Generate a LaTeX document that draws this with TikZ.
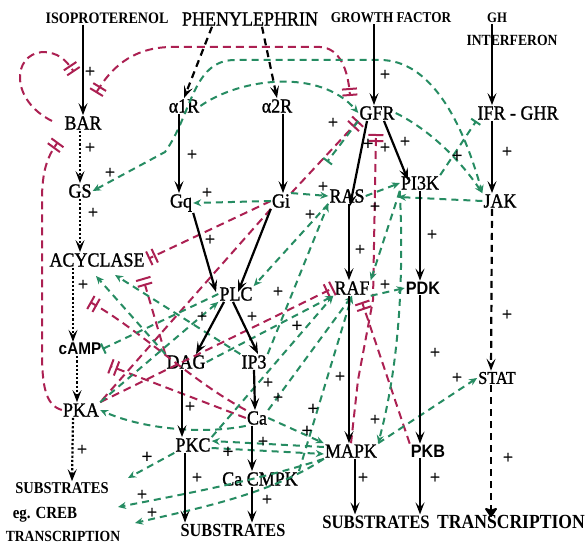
\documentclass[tikz,border=0pt]{standalone}
\usepackage{fontspec}
\setmainfont{Liberation Serif}
\newfontfamily\cond{Liberation Serif}[FakeStretch=0.9,FakeBold=1.2]
\newfontfamily\condo{Liberation Serif}[FakeStretch=0.88]
\newfontfamily\condsans{Liberation Sans}[FakeStretch=0.9]
\newfontfamily\plusfont{Liberation Serif}[FakeBold=1.5]
\usetikzlibrary{arrows.meta,calc}
\definecolor{gcol}{RGB}{38,140,98}
\definecolor{rcol}{RGB}{172,32,82}
\tikzset{
  lbl/.style={inner sep=1pt,font={\cond\fontsize{20}{20}\selectfont}},
  outer/.style={inner sep=1pt,font={\condo\bfseries\fontsize{16}{16}\selectfont}},
  sanslbl/.style={inner sep=1pt,font={\condsans\bfseries\fontsize{18}{18}\selectfont}},
  plus/.style={inner sep=0pt,font={\plusfont\fontsize{18}{18}\selectfont}},
  bplus/.style={inner sep=0pt,font={\bfseries\fontsize{20}{20}\selectfont}},
  blk/.style={draw=black,line width=2.2pt,-{Stealth[length=12pt,width=9pt,inset=5pt]}},
  blkdot/.style={blk,dotted},
  blkdash/.style={blk,dash pattern=on 7pt off 5pt},
  grn/.style={draw=gcol,line width=2pt,dash pattern=on 7pt off 5pt,-{Stealth[length=8pt,width=7pt]}},
  grnbar/.style={draw=gcol,line width=2pt,dash pattern=on 7pt off 5pt,-{Bar[width=11pt]}},
  red/.style={draw=rcol,line width=2pt,dash pattern=on 8pt off 5pt},
  redinh/.style={red,-{Bar[width=15pt,sep=4pt]Bar[width=15pt]}},
}
\begin{document}
\begin{tikzpicture}[x=1pt,y=-1pt]
\useasboundingbox (0,0) rectangle (586,545);
\fill[white] (0,0) rectangle (586,545);
% ---------- nodes ----------
\node[outer] (iso) at (107,18) {ISOPROTERENOL};
\node[lbl,font={\cond\fontsize{20}{20}\selectfont}] (phen) at (250,19) {PHENYLEPHRIN};
\node[outer,font={\condo\bfseries\fontsize{15}{15}\selectfont}] (gf) at (391,18) {GROWTH FACTOR};
\node[outer,font={\condo\bfseries\fontsize{14.5}{14.5}\selectfont}] (gh) at (497,18) {GH};
\node[outer,font={\condo\bfseries\fontsize{15.5}{15.5}\selectfont}] (intf) at (512,40) {INTERFERON};
\node[lbl] (bar) at (83,123) {BAR};
\node[lbl] (a1r) at (184,106) {α1R};
\node[lbl] (a2r) at (277,106) {α2R};
\node[lbl] (gfr) at (377,113) {GFR};
\node[lbl] (ifr) at (518,113) {IFR - GHR};
\node[lbl] (gs) at (80,191) {GS};
\node[lbl] (gq) at (181,203) {Gq};
\node[lbl] (gi) at (281,201) {Gi};
\node[lbl] (ras) at (347,196) {RAS};
\node[lbl] (pi3k) at (420,183) {PI3K};
\node[lbl] (jak) at (500,201) {JAK};
\node[lbl] (acyclase) at (97,260) {ACYCLASE};
\node[lbl] (plc) at (236,294) {PLC};
\node[lbl] (raf) at (352,288) {RAF};
\node[sanslbl] (pdk) at (423,288) {PDK};
\node[sanslbl,font={\condsans\bfseries\fontsize{17}{17}\selectfont}] (camp) at (80,349) {cAMP};
\node[lbl] (dag) at (186,362) {DAG};
\node[lbl] (ip3) at (254,362) {IP3};
\node[lbl] (pka) at (81,410) {PKA};
\node[lbl] (ca) at (257,418) {Ca};
\node[lbl,font={\cond\fontsize{18}{18}\selectfont}] (stat) at (497,378) {STAT};
\node[lbl] (pkc) at (193,445) {PKC};
\node[lbl] (cacmpk) at (260,479) {Ca CMPK};
\node[lbl] (mapk) at (351,451) {MAPK};
\node[sanslbl] (pkb) at (428,451) {PKB};
\node[outer,font={\condo\bfseries\fontsize{16.5}{16.5}\selectfont}] (sub1) at (62,488) {SUBSTRATES};
\node[outer,font={\condo\bfseries\fontsize{17}{17}\selectfont}] (creb) at (45,515) {eg. CREB};
\node[outer,font={\condo\bfseries\fontsize{15.5}{15.5}\selectfont}] (trans1) at (63,536) {TRANSCRIPTION};
\node[outer,font={\condo\bfseries\fontsize{18.5}{18.5}\selectfont}] (sub2) at (233,530) {SUBSTRATES};
\node[outer,font={\condo\bfseries\fontsize{19}{19}\selectfont}] (sub3) at (376,522) {SUBSTRATES};
\node[outer,font={\condo\bfseries\fontsize{20}{20}\selectfont}] (trans2) at (511,522) {TRANSCRIPTION};
% ---------- free ends ----------
\coordinate (barinh) at (58,142);
\coordinate (l1) at (52,121);
\coordinate (isoinh) at (74,72);
\coordinate (barinh2) at (96,93);
\coordinate (gfrinh) at (350,96);
\coordinate (acyinh) at (143,278);
\coordinate (campinh) at (90,302);
\coordinate (pkainh) at (110,366);
\coordinate (gfrinh2) at (376,134);
\coordinate (rafinh) at (362,302);
\coordinate (s1) at (128,478);
\coordinate (s2) at (118,507);
\coordinate (s3) at (135,523);
\coordinate (acyin1) at (96,276);
\coordinate (acyin2) at (115,275);
\coordinate (pi3kin) at (398,197);
\coordinate (git) at (327,162);
% ---------- red inhibitory ----------
\draw[red,-{Bar[width=15pt,sep=4pt]Bar[width=15pt]}] (pka.west) .. controls (45,405) and (42,385) .. (42,350) -- (42,200) .. controls (42,172) and (47,157) .. (barinh);
\draw[redinh] (l1) .. controls (10,100) and (12,55) .. (42,52) .. controls (58,52) and (66,60) .. (isoinh);
\draw[red,{Bar[width=15pt]Bar[width=15pt,sep=4pt]}-{Bar[width=15pt,sep=4pt]Bar[width=15pt]}] (barinh2) .. controls (110,70) and (130,48) .. (170,47) -- (320,47) .. controls (340,48) and (348,70) .. (gfrinh);
\draw[redinh] (gi.north east) -- (gfr.south west);
\draw[redinh,shorten >=3pt] (gi.west) -- (acyclase.east);
\draw[redinh] (dag.north west) -- (acyinh);
\draw[redinh] (ca.north west) .. controls (190,380) and (140,330) .. (campinh);
\draw[redinh] (ca.west) -- (pkainh);
\draw[redinh] (pka.north east) -- (raf.west);
\draw[red] (gi.south west) -- (pka.north east);
\draw[redinh] (mapk.north) -- (358,380) -- (373,300) -- (gfrinh2);
\draw[redinh] (pkb.north west) -- (rafinh);
% ---------- green activating ----------
\draw[grn,{Stealth[length=8pt,width=7pt]}-{Stealth[length=8pt,width=7pt]}] (gs.east) -- (165,152) .. controls (192,115) and (192,60) .. (235,60) -- (380,60) .. controls (430,60) and (462,120) .. (jak.north west);
\draw[grn] (a1r.east) .. controls (240,78) and (320,68) .. (gfr.west);
\draw[grn] (gi.west) -- (gq.east);
\draw[grn] (ca.south west) .. controls (200,435) and (140,428) .. (pka.east);
\draw[grn] (pka.north east) -- (plc.south west);
\draw[grn] (dag.north west) -- (acyin1);
\draw[grn] (ip3.north west) -- (acyin2);
\draw[grn] (dag.east) -- (raf.south west);
\draw[grn] (ca.north east) -- (raf.south);
\draw[grn] (pkc.north east) -- (raf.south west);
\draw[grn] (cacmpk.north east) -- (raf.south);
\draw[grn] ([yshift=-3pt]pkc.east) -- ([yshift=-3pt]mapk.west);
\draw[grn] (ca.east) -- (mapk.north west);
\draw[grn] ([yshift=4pt]mapk.west) -- ([yshift=4pt]pkc.east);
\draw[grn] (pkc.south west) -- (s1);
\draw[grn] (mapk.south west) .. controls (260,480) and (180,495) .. (s2);
\draw[grn] (mapk.south west) .. controls (270,495) and (190,510) .. (s3);
\draw[grn] (mapk.north east) -- (stat.west);
\draw[grn] (pi3k.south west) .. controls (405,300) and (395,380) .. (mapk.north east);
\draw[grn] (ras.east) -- (pi3k.west);
\draw[grn] (jak.west) -- (pi3kin);
\draw[grn] (gfr.east) .. controls (430,130) and (460,160) .. (jak.north west);
\draw[grn] (raf.south east) -- (pdk.west);
\draw[grn] (ras.south west) -- (plc.north east);
\draw[grn] (gi.north east) -- (ras.west);
\draw[grn] (ip3.north east) -- (ras.south west);
\draw[grn] (pi3k.south west) -- (raf.north east);
\draw[grnbar] (plc.west) -- (camp.east);
\draw[grnbar] (gfr.south west) -- (git);
\draw[grnbar] (pi3k.north east) -- (ifr.south west);
% ---------- black main arrows ----------
\draw[blk] (iso.south -| bar) -- (bar.north);
\draw[blkdot] ([xshift=-3pt]bar.south) -- ([xshift=0pt]gs.north);
\draw[blkdot] (gs.south) -- (gs.south |- acyclase.north);
\draw[blkdot] ([xshift=-24pt]acyclase.south) -- ([xshift=-7pt]camp.north);
\draw[blkdot] ([xshift=-3pt]camp.south) -- ([xshift=-4pt]pka.north);
\draw[blkdot] ([xshift=-8pt]pka.south) -- ([xshift=10pt]sub1.north);
\draw[blkdash] ([xshift=-38pt]phen.south) -- (a1r.north);
\draw[blkdash] ([xshift=12pt]phen.south) -- (a2r.north);
\draw[blk] ([xshift=-5pt]a1r.south) -- ([xshift=-2pt]gq.north);
\draw[blk] ([xshift=6pt]a2r.south) -- ([xshift=2pt]gi.north);
\draw[blk] (gq.south east) -- ([xshift=-20pt,yshift=-6pt]plc.north);
\draw[blk] (gi.south west) -- ([xshift=2pt,yshift=-6pt]plc.north);
\draw[blk] ([xshift=-12pt]plc.south) -- ([xshift=10pt]dag.north);
\draw[blk] ([xshift=-3pt]plc.south) -- ([xshift=4pt]ip3.north);
\draw[blk] (ip3.south) -- ([xshift=-2pt]ca.north);
\draw[blk] ([xshift=-4pt]dag.south) -- ([xshift=-11pt]pkc.north);
\draw[blk] ([xshift=-5pt]ca.south) -- ([xshift=-8pt]cacmpk.north);
\draw[blk] ([xshift=-8pt]pkc.south) -- ([xshift=-48pt]sub2.north);
\draw[blk] ([xshift=-8pt]cacmpk.south) -- ([xshift=19pt]sub2.north);
\draw[blk] ([xshift=-17pt]gf.south) -- ([xshift=-3pt]gfr.north);
\draw[blk] ([xshift=-5pt]gh.south) -- ([xshift=-26pt]ifr.north);
\draw[blk] ([xshift=-26pt]ifr.south) -- ([xshift=-8pt]jak.north);
\draw[blk] ([xshift=-10pt]gfr.south) -- ([xshift=3pt,yshift=-18pt]ras.north);
\draw[blk] ([xshift=7pt]gfr.south) -- ([xshift=-12pt,yshift=-5pt]pi3k.north);
\draw[blk] ([xshift=2pt]ras.south) -- ([xshift=-3pt]raf.north);
\draw[blk] (pi3k.south) -- ([xshift=-3pt]pdk.north);
\draw[blk] ([xshift=-3pt]raf.south) -- ([xshift=-2pt]mapk.north);
\draw[blk] ([xshift=-3pt]pdk.south) -- ([xshift=-8pt]pkb.north);
\draw[blk] ([xshift=4pt]mapk.south) -- ([xshift=-21pt]sub3.north);
\draw[blk] ([xshift=-8pt]pkb.south) -- ([xshift=44pt]sub3.north);
\draw[blkdash] ([xshift=-8pt]jak.south) -- ([xshift=-6pt]stat.north);
\draw[draw=black,line width=2.2pt,dash pattern=on 7pt off 5pt,-{Stealth[length=11pt,width=15pt,inset=3pt,round]}] ([xshift=-6pt]stat.south) -- ([xshift=-20pt,yshift=-3pt]trans2.north);
% ---------- plus signs ----------
\foreach \px/\py [count=\i] in {90/72,90/148,110/173,93/213,83/285,82/450,192/155,207/193,210/240,278/292,385/75,333/123,385/148,405/142,323/187,375/207,310/215,507/152,507/315,432/235,360/250,385/285,435/353,340/377,375/420,457/378,508/458,363/478,435/478,202/317,252/317,268/383,278/398,263/442,190/407,197/478,267/500,142/495,152/513}
  \node[plus] (p\i) at (\px,\py) {+};
\foreach \px/\py [count=\i] in {457/157,368/145,297/327,313/410,307/432,228/453,147/458}
  \node[bplus] (q\i) at (\px,\py) {+};
\end{tikzpicture}
\end{document}
